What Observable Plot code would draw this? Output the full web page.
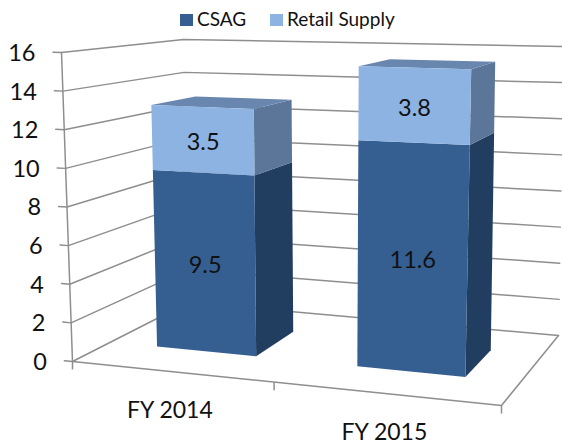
<!DOCTYPE html>
<html><head><meta charset="utf-8">
<script src="https://cdn.jsdelivr.net/npm/d3@7"></script>
<script src="https://cdn.jsdelivr.net/npm/@observablehq/plot@0.6"></script>
<style>
html,body{margin:0;padding:0;background:#fff;overflow:hidden}
#legend{height:30px;position:relative;font:19px Lato,sans-serif;color:#111}
#legend span{position:absolute;top:8px;line-height:22px;white-space:nowrap}
#legend i{position:absolute;top:14px;width:13px;height:12px}
svg{display:block}
</style></head><body>
<div id="legend"></div>
<div id="chart"></div>
<script>
const categories = ["FY 2014", "FY 2015"];
const csag = [9.5, 11.6];
const retail = [3.5, 3.8];
const valueTicks = [0, 2, 4, 6, 8, 10, 12, 14, 16];
const seriesNames = ["CSAG", "Retail Supply"];

// 3D box projection settings: screen position of the eight box corners
const corners = {
  fl0:[72,361], fr0:[501,405], bl0:[188,302], br0:[558,335],
  fl1:[61,52],  fr1:[511,64],  bl1:[183,39],  br1:[563,46]
};
const vMax = 16;
const barU = [[0.113,0.355],[0.602,0.866]];
const barD = [0.33,0.72];
const mix = (a,b,t) => a + (b-a)*t;
function project(u,d,v){
  const t = v/vMax, c = corners, out = [];
  for (const i of [0,1]) {
    const low = mix(mix(c.fl0[i],c.fr0[i],u), mix(c.bl0[i],c.br0[i],u), d);
    const high = mix(mix(c.fl1[i],c.fr1[i],u), mix(c.bl1[i],c.br1[i],u), d);
    out.push(mix(low,high,t));
  }
  return {x:out[0], y:out[1]};
}
const colors = {
  csag:{front:"#365F91", side:"#213D5F"},
  retail:{front:"#8DB3E2", side:"#5B7698", top:"#6886AE"}
};

// polygons
const polys = [];
let pid = 0;
function poly(pts, fill){ pid++; for (const p of pts) polys.push({...project(...p), id:pid, fill}); }
categories.forEach((cat,i)=>{
  const [u0,u1] = barU[i], [d0,d1] = barD;
  const a = csag[i], b = csag[i]+retail[i];
  poly([[u1,d0,0],[u1,d1,0],[u1,d1,a],[u1,d0,a]], colors.csag.side);
  poly([[u1,d0,a],[u1,d1,a],[u1,d1,b],[u1,d0,b]], colors.retail.side);
  poly([[u0,d0,b],[u1,d0,b],[u1,d1,b],[u0,d1,b]], colors.retail.top);
  poly([[u0,d0,0],[u1,d0,0],[u1,d0,a],[u0,d0,a]], colors.csag.front);
  poly([[u0,d0,a],[u1,d0,a],[u1,d0,b],[u0,d0,b]], colors.retail.front);
});

// walls and floor lines
const lines = [];
let lid = 0;
function line(pts){ lid++; for (const p of pts) lines.push({...project(...p), id:lid}); }
valueTicks.forEach(v=>{
  line([[-0.019,0,v],[0,0,v],[0,1,v],[1,1,v]]);
});
line([[0,0,0],[0,0,vMax]]);
line([[0,0,0],[1,0,0],[1,1,0]]);
const catTicks = [0,0.47,1].map(u=>{
  const p = project(u,0,0);
  return {x:p.x, y1:p.y, y2:p.y+8};
});

const tickLabels = valueTicks.map(v=>({...project(-0.019,0,v), v}));
const barLabels = [];
categories.forEach((c,i)=>{
  const um = (barU[i][0]+barU[i][1])/2;
  barLabels.push({...project(um,barD[0],csag[i]/2), t:String(csag[i])});
  barLabels.push({...project(um,barD[0],csag[i]+retail[i]/2), t:String(retail[i])});
});
const catLabels = categories.map((c,i)=>{
  const um = (barU[i][0]+barU[i][1])/2;
  return {...project(um,0,0), t:c};
});

const font = "Lato, sans-serif";
const chart = Plot.plot({
  width:562, height:415, margin:0,
  style:{background:"#fff", fontFamily:font},
  x:{domain:[0,562], range:[0,562], axis:null},
  y:{domain:[30,445], range:[0,415], axis:null},
  marks:[
    Plot.line(lines,{x:"x",y:"y",z:"id",stroke:"#8E8E8E",strokeWidth:1.5}),
    Plot.link(catTicks,{x1:"x",x2:"x",y1:"y1",y2:"y2",stroke:"#8E8E8E",strokeWidth:1.5}),
    Plot.line(polys,{x:"x",y:"y",z:"id",fill:"fill",stroke:"none",curve:"linear-closed"}),
    Plot.text(tickLabels,{x:"x",y:"y",text:d=>String(d.v),textAnchor:"end",dx:-17.5,dy:1.5,fontSize:23.5,fill:"#111"}),
    Plot.text(barLabels,{x:"x",y:"y",text:"t",dy:3,fontSize:23.5,fill:"#111"}),
    Plot.text(catLabels,{x:"x",y:"y",text:"t",dx:-3,dy:39,fontSize:23,fill:"#111"})
  ]
});
document.getElementById("chart").append(chart);

const lg = document.getElementById("legend");
[[180,197,colors.csag.front],[270,287,colors.retail.front]].forEach((s,i)=>{
  const sw = document.createElement("i");
  sw.style.left = s[0]+"px"; sw.style.background = s[2];
  const tx = document.createElement("span");
  tx.style.left = s[1]+"px"; tx.textContent = seriesNames[i];
  lg.append(sw,tx);
});
</script>
</body></html>
